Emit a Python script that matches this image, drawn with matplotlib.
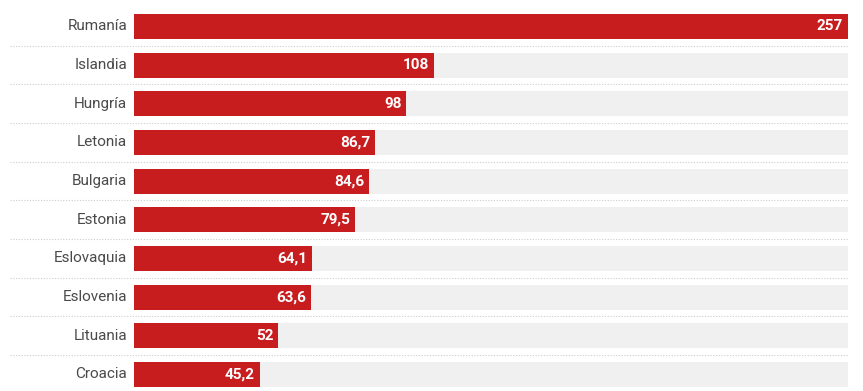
import matplotlib.pyplot as plt
import matplotlib.transforms as mtransforms

# Datos
paises = ["Rumanía", "Islandia", "Hungría", "Letonia", "Bulgaria",
          "Estonia", "Eslovaquia", "Eslovenia", "Lituania", "Croacia"]
valores = [257, 108, 98, 86.7, 84.6, 79.5, 64.1, 63.6, 52, 45.2]
etiquetas = ["257", "108", "98", "86,7", "84,6", "79,5", "64,1", "63,6", "52", "45,2"]
maximo = 257

plt.rcParams['font.family'] = ['Roboto', 'DejaVu Sans']

fig = plt.figure(figsize=(8.63, 3.91), dpi=100)
ax = fig.add_axes([134 / 863, 0, (848 - 134) / 863, 1])

y = list(range(len(paises)))
ax.barh(y, [maximo] * len(paises), height=0.65, color="#f0f0f0")
ax.barh(y, valores, height=0.65, color="#c71d1f")

ax.set_xlim(0, maximo)
ax.set_ylim(9.427, -0.685)

# Valores dentro de la barra
for yi, v, t in zip(y, valores, etiquetas):
    ax.annotate(t, (v, yi), xytext=(-3.5, 0), textcoords="offset points",
                ha="right", va="center", color="white", fontsize=11,
                fontweight="bold")

# Nombres de los países
for yi, p in zip(y, paises):
    ax.annotate(p, (0, yi), xytext=(-5, 0), textcoords="offset points",
                ha="right", va="center", color="#4a4a4a", fontsize=11)

# Líneas punteadas entre filas
trans = mtransforms.blended_transform_factory(fig.transFigure, ax.transData)
for i in range(len(paises) - 1):
    ax.plot([10 / 863, 848 / 863], [i + 0.5, i + 0.5], transform=trans,
            color="#cccccc", linestyle=(0, (1, 1.5)), linewidth=0.8,
            clip_on=False)

ax.axis("off")
fig.savefig("out.png", dpi=100)
